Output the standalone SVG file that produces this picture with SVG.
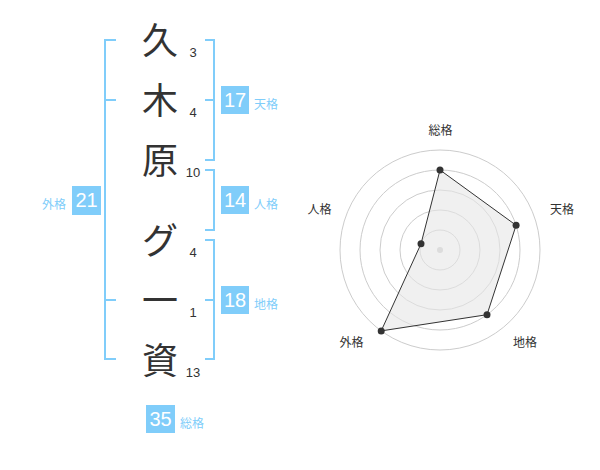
<svg xmlns="http://www.w3.org/2000/svg" width="600" height="470" viewBox="0 0 600 470">
<style>
.ch{font-family:"Noto Sans CJK JP","Noto Sans",sans-serif;font-size:36px;fill:#333;text-anchor:middle}
.sn{font-family:"Liberation Sans",Arial,sans-serif;font-size:13px;fill:#333;text-anchor:middle}
.br{fill:none;stroke:#80cdfa;stroke-width:2}
.bx{fill:#80cdfa}
.bn{font-family:"Liberation Sans",Arial,sans-serif;font-size:20px;fill:#fff;text-anchor:middle}
.bl{font-family:"Noto Sans CJK JP","Noto Sans",sans-serif;font-size:12px;fill:#80cdfa}
.rl{font-family:"Noto Sans CJK JP","Noto Sans",sans-serif;font-size:12px;fill:#333;text-anchor:middle}
.rc{fill:none;stroke:#ccc;stroke-width:1}
.pt{fill:#333}
</style>
<rect width="600" height="470" fill="#fff"/>
<g id="name">
<text class="ch" x="160" y="54">久</text>
<text class="ch" x="160" y="114">木</text>
<text class="ch" x="160" y="174">原</text>
<text class="ch" x="160" y="254">グ</text>
<text class="ch" x="160" y="314">一</text>
<text class="ch" x="160" y="374">資</text>
<text class="sn" x="193" y="57">3</text>
<text class="sn" x="193" y="117">4</text>
<text class="sn" x="193" y="177">10</text>
<text class="sn" x="193" y="257">4</text>
<text class="sn" x="193" y="317">1</text>
<text class="sn" x="193" y="377">13</text>
</g>
<g id="connectors">
<path class="br" d="M116,40 H105 V359 H116 M105,100 H116 M105,300 H116"/>
<path class="br" d="M205,40 H214 V160 H205 M205,100 H214"/>
<path class="br" d="M205,170 H214 V230 H205"/>
<path class="br" d="M205,240 H214 V359 H205 M205,300 H214"/>
</g>
<g id="tenkaku">
<rect class="bx" x="221" y="86" width="28" height="28"/>
<text class="bn" x="235" y="107">17</text>
<text class="bl" x="254" y="109">天格</text>
</g>
<g id="jinkaku">
<rect class="bx" x="221" y="186" width="28" height="28"/>
<text class="bn" x="235" y="207">14</text>
<text class="bl" x="254" y="209">人格</text>
</g>
<g id="chikaku">
<rect class="bx" x="221" y="286" width="28" height="28"/>
<text class="bn" x="235" y="307">18</text>
<text class="bl" x="254" y="309">地格</text>
</g>
<g id="gaikaku">
<rect class="bx" x="72" y="186" width="29" height="29"/>
<text class="bn" x="86.5" y="207">21</text>
<text class="bl" x="66" y="209" text-anchor="end">外格</text>
</g>
<g id="soukaku">
<rect class="bx" x="146" y="405" width="29" height="28"/>
<text class="bn" x="160.5" y="426">35</text>
<text class="bl" x="180" y="428">総格</text>
</g>
<g id="radar">
<circle class="rc" cx="440" cy="250" r="20"/>
<circle class="rc" cx="440" cy="250" r="40"/>
<circle class="rc" cx="440" cy="250" r="60"/>
<circle class="rc" cx="440" cy="250" r="80"/>
<circle class="rc" cx="440" cy="250" r="100"/>
<circle cx="440" cy="250" r="3" fill="#ccc"/>
<polygon points="440,170 516.1,225.3 487,314.7 381.2,330.9 421,243.8" fill="#e6e6e6" fill-opacity="0.6" stroke="#333" stroke-width="1"/>
<circle class="pt" cx="440" cy="170" r="3.5"/>
<circle class="pt" cx="516.1" cy="225.3" r="3.5"/>
<circle class="pt" cx="487" cy="314.7" r="3.5"/>
<circle class="pt" cx="381.2" cy="330.9" r="3.5"/>
<circle class="pt" cx="421" cy="243.8" r="3.5"/>
<text class="rl" x="440.5" y="135">総格</text>
<text class="rl" x="562" y="213.5">天格</text>
<text class="rl" x="525" y="346.5">地格</text>
<text class="rl" x="351.5" y="346.5">外格</text>
<text class="rl" x="319.5" y="213.5">人格</text>
</g>
</svg>
